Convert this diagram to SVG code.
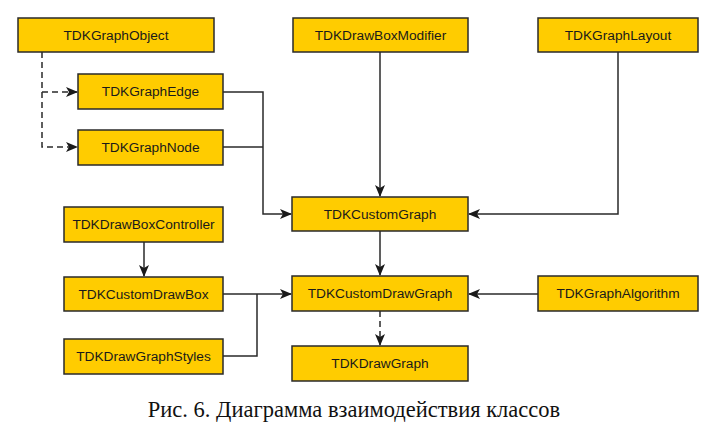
<svg xmlns="http://www.w3.org/2000/svg" width="716" height="424" viewBox="0 0 716 424">
<defs>
<style>
.box{fill:#FFCC00;stroke:#2a2a2a;stroke-width:1.5}
.lbl{font-family:"Liberation Sans",Arial,sans-serif;font-size:13.7px;fill:#1a1a1a;text-anchor:middle;dominant-baseline:central}
.ln{fill:none;stroke:#2a2a2a;stroke-width:1.5}
.dash{stroke-dasharray:6,4}
.cap{font-family:"Liberation Serif","Times New Roman",serif;font-size:22.5px;fill:#111;text-anchor:middle}
</style>
<marker id="arr" viewBox="0 0 12 10" refX="11" refY="5" markerWidth="12" markerHeight="10" markerUnits="userSpaceOnUse" orient="auto">
<path d="M0,0 L12,5 L0,10 L3,5 Z" fill="#1a1a1a"/>
</marker>
</defs>
<rect width="716" height="424" fill="#fff"/>
<g id="connectors">
<path class="ln dash" d="M42,52 V147 H77" marker-end="url(#arr)"/>
<path class="ln dash" d="M42,92 H77" marker-end="url(#arr)"/>
<path class="ln" d="M223,92 H263 V214 H291" marker-end="url(#arr)"/>
<path class="ln" d="M223,147 H263"/>
<path class="ln" d="M380,52 V196" marker-end="url(#arr)"/>
<path class="ln" d="M618,52 V214 H469" marker-end="url(#arr)"/>
<path class="ln" d="M144,242 V276" marker-end="url(#arr)"/>
<path class="ln" d="M380,231 V275" marker-end="url(#arr)"/>
<path class="ln" d="M223,294 H291" marker-end="url(#arr)"/>
<path class="ln" d="M223,356 H257 V294"/>
<path class="ln" d="M538,294 H469" marker-end="url(#arr)"/>
<path class="ln dash" d="M380,311 V345" marker-end="url(#arr)"/>
</g>
<g id="n-graphobject"><rect class="box" x="18" y="18" width="196" height="34"/><text class="lbl" x="116" y="35">TDKGraphObject</text></g>
<g id="n-drawboxmodifier"><rect class="box" x="293" y="18" width="175" height="34"/><text class="lbl" x="380.5" y="35">TDKDrawBoxModifier</text></g>
<g id="n-graphlayout"><rect class="box" x="538" y="18" width="160" height="34"/><text class="lbl" x="618" y="35">TDKGraphLayout</text></g>
<g id="n-graphedge"><rect class="box" x="78" y="74" width="145" height="35"/><text class="lbl" x="150.5" y="91.5">TDKGraphEdge</text></g>
<g id="n-graphnode"><rect class="box" x="78" y="130" width="145" height="35"/><text class="lbl" x="150.5" y="147.5">TDKGraphNode</text></g>
<g id="n-customgraph"><rect class="box" x="292" y="197" width="176" height="34"/><text class="lbl" x="380" y="214">TDKCustomGraph</text></g>
<g id="n-drawboxcontroller"><rect class="box" x="64" y="207" width="159" height="35"/><text class="lbl" x="143.5" y="224.5">TDKDrawBoxController</text></g>
<g id="n-customdrawbox"><rect class="box" x="64" y="277" width="159" height="34"/><text class="lbl" x="143.5" y="294">TDKCustomDrawBox</text></g>
<g id="n-customdrawgraph"><rect class="box" x="292" y="276" width="176" height="35"/><text class="lbl" x="380" y="293.5">TDKCustomDrawGraph</text></g>
<g id="n-graphalgorithm"><rect class="box" x="538" y="276" width="160" height="35"/><text class="lbl" x="618" y="293.5">TDKGraphAlgorithm</text></g>
<g id="n-drawgraphstyles"><rect class="box" x="64" y="339" width="159" height="35"/><text class="lbl" x="143.5" y="356.5">TDKDrawGraphStyles</text></g>
<g id="n-drawgraph"><rect class="box" x="292" y="346" width="176" height="35"/><text class="lbl" x="380" y="363.5">TDKDrawGraph</text></g>
<text class="cap" x="354" y="417">Рис. 6. Диаграмма взаимодействия классов</text>
</svg>
